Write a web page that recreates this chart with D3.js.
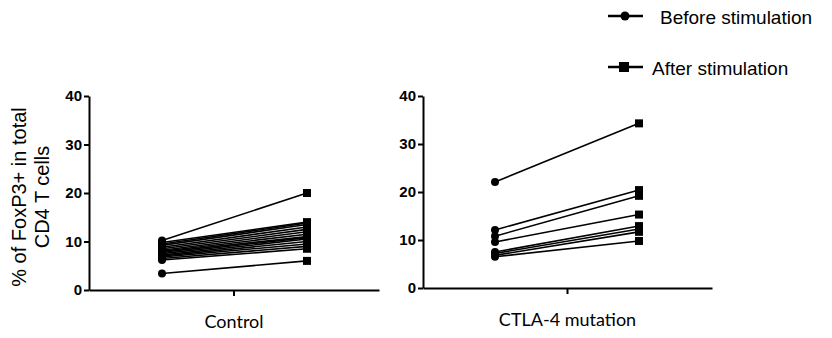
<!DOCTYPE html>
<meta charset="utf-8">
<style>
body { margin: 0; background: #fff; }
.axis path, .axis line { stroke: #000; stroke-width: 2px; }
.pair { stroke: #000; stroke-width: 1.6px; fill: none; }
</style>
<body>
<script src="https://d3js.org/d3.v7.min.js"></script>
<script>

var width = 832,
    height = 338;

// data
var yTicks = [0, 10, 20, 30, 40];
var conditions = ["Before stimulation", "After stimulation"];
var groups = ["Control", "CTLA-4 mutation"];

var controlBefore = [10.2, 9.8, 9.5, 9.2, 8.8, 8.5, 8.2, 8.0, 7.8, 7.5, 7.2, 7.0, 6.8, 6.5, 6.2, 3.4];
var controlAfter  = [20.0, 14.0, 13.8, 13.5, 13.0, 12.5, 12.0, 11.5, 11.0, 10.8, 10.5, 10.0, 9.5, 9.0, 8.5, 6.0];

var ctlaBefore = [22.1, 12.1, 10.8, 9.6, 7.5, 7.2, 6.8, 6.5];
var ctlaAfter  = [34.3, 20.4, 19.2, 15.3, 12.9, 12.3, 11.7, 9.8];

var svg = d3.select("body").append("svg")
    .attr("width", width)
    .attr("height", height);

var panels = [
  { name: groups[0], before: controlBefore, after: controlAfter, x0: 89, x1: 379, y0: 290, y1: 96, px: [162, 307] },
  { name: groups[1], before: ctlaBefore, after: ctlaAfter, x0: 423, x1: 712, y0: 288, y1: 96, px: [495, 639] }
];

panels.forEach(function(p) {
  var y = d3.scaleLinear().domain([0, 40]).range([p.y0, p.y1]);
  var xc = d3.scaleBand().domain([p.name]).range([p.x0, p.x1]);
  var xp = d3.scalePoint().domain(conditions).range(p.px);

  var g = svg.append("g");

  // y axis
  var ya = g.append("g")
      .attr("class", "axis")
      .attr("transform", "translate(" + p.x0 + ",0)")
      .call(d3.axisLeft(y).tickValues(yTicks).tickSize(5).tickSizeOuter(0).tickPadding(2));
  ya.selectAll("text")
      .style("font-family", "Arial, 'Liberation Sans', sans-serif")
      .style("font-weight", "bold")
      .style("font-size", "15px")
      .attr("fill", "#000");

  // x axis
  var xa = g.append("g")
      .attr("class", "axis")
      .attr("transform", "translate(0," + p.y0 + ")")
      .call(d3.axisBottom(xc).tickSize(6).tickSizeOuter(0).tickPadding(19));
  xa.selectAll("text")
      .style("font-family", "Lato, 'Open Sans', sans-serif")
      .style("font-size", "18px")
      .attr("fill", "#000");

  var pairs = p.before.map(function(b, i) { return [b, p.after[i]]; });

  g.selectAll(".pair")
    .data(pairs)
    .enter().append("line")
      .attr("class", "pair")
      .attr("x1", xp(conditions[0]))
      .attr("x2", xp(conditions[1]))
      .attr("y1", function(d) { return y(d[0]); })
      .attr("y2", function(d) { return y(d[1]); });

  g.selectAll(".bpt")
    .data(p.before)
    .enter().append("circle")
      .attr("cx", xp(conditions[0]))
      .attr("cy", function(d) { return y(d); })
      .attr("r", 4)
      .attr("fill", "#000");

  g.selectAll(".apt")
    .data(p.after)
    .enter().append("rect")
      .attr("x", xp(conditions[1]) - 4)
      .attr("y", function(d) { return y(d) - 4; })
      .attr("width", 8)
      .attr("height", 8)
      .attr("fill", "#000");
});

// y axis title
var title = svg.append("text")
    .attr("transform", "translate(26,197) rotate(-90)")
    .attr("text-anchor", "middle")
    .style("font-family", "Arial, 'Liberation Sans', sans-serif")
    .style("font-size", "20px");
title.append("tspan").attr("x", 0).attr("dy", 0).text("% of FoxP3+ in total");
title.append("tspan").attr("x", 0).attr("dy", 23).text("CD4 T cells");

// legend
var legend = svg.append("g");
var legendRows = [
  { label: conditions[0], shape: "circle", y: 16, tx: 660 },
  { label: conditions[1], shape: "square", y: 67, tx: 652 }
];
legendRows.forEach(function(r) {
  legend.append("line")
      .attr("x1", 608).attr("x2", 643)
      .attr("y1", r.y).attr("y2", r.y)
      .attr("stroke", "#000").attr("stroke-width", 2.5);
  if (r.shape === "circle") {
    legend.append("circle").attr("cx", 625).attr("cy", r.y).attr("r", 4.5).attr("fill", "#000");
  } else {
    legend.append("rect").attr("x", 619).attr("y", r.y - 5).attr("width", 10).attr("height", 10).attr("fill", "#000");
  }
  legend.append("text")
      .attr("x", r.tx).attr("y", r.y + 8)
      .style("font-family", "Arial, 'Liberation Sans', sans-serif")
      .style("font-size", "19px")
      .text(r.label);
});

</script>
</body>
